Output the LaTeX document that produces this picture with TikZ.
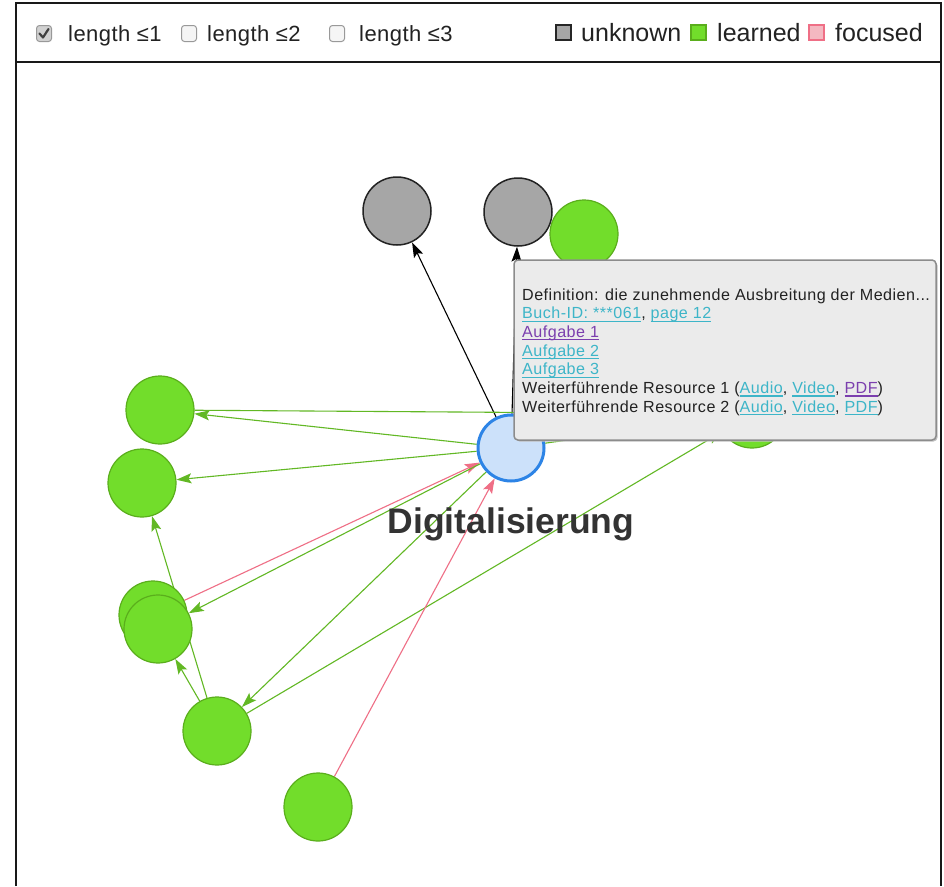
\documentclass[tikz,border=0pt]{standalone}
\usepackage{fontspec}
\setmainfont{Liberation Sans}
\newfontfamily\tipfont[LetterSpace=3]{Liberation Sans}
\newfontfamily\hdrfont[LetterSpace=2]{Liberation Sans}
\usetikzlibrary{arrows.meta}
\definecolor{gfill}{HTML}{72DD2B}
\definecolor{gstroke}{HTML}{5AAE1C}
\definecolor{gedge}{HTML}{62B824}
\definecolor{ufill}{HTML}{A6A6A6}
\definecolor{ustroke}{HTML}{222222}
\definecolor{pedge}{HTML}{EF6F86}
\definecolor{pfill}{HTML}{F4B8C1}
\definecolor{cfill}{HTML}{CCE1FA}
\definecolor{cstroke}{HTML}{2D84E6}
\definecolor{tipbg}{HTML}{EBEBEB}
\definecolor{tipborder}{HTML}{8C8C8C}
\definecolor{linkc}{HTML}{3DB5C8}
\definecolor{vlinkc}{HTML}{7B3FAE}
\definecolor{txt}{HTML}{222222}
\newcommand\myul[1]{\setbox0\hbox{#1}\leavevmode\rlap{\raisebox{-3pt}{\rule{\wd0}{1.1pt}}}\box0}
\newcommand\lnk[1]{\textcolor{linkc}{\myul{#1}}}
\newcommand\vlnk[1]{\textcolor{vlinkc}{\myul{#1}}}
\pgfdeclarelayer{bg}
\pgfdeclarelayer{edges}
\pgfsetlayers{bg,edges,main}
\tikzset{
  learned/.style={circle, minimum size=68pt, inner sep=0pt, fill=gfill, draw=gstroke, line width=1.2pt},
  unknown/.style={circle, minimum size=68pt, inner sep=0pt, fill=ufill, draw=ustroke, line width=1.5pt},
  center/.style={circle, minimum size=66pt, inner sep=0pt, fill=cfill, draw=cstroke, line width=3pt},
  gl/.style={draw=gedge, line width=1.1pt, -{Stealth[length=15pt,width=10pt,inset=3pt]}},
  pl/.style={draw=pedge, line width=1.1pt, -{Stealth[length=15pt,width=10pt,inset=3pt]}},
  bl/.style={draw=black, line width=1.1pt, -{Stealth[length=15pt,width=10pt,inset=3pt]}},
  frame/.style={draw=black!90, line width=1.4pt},
  hdr/.style={anchor=base west, inner sep=0pt, font=\hdrfont\fontsize{22}{24}\selectfont, text=txt},
  leg/.style={anchor=base west, inner sep=0pt, font=\fontsize{25}{28}\selectfont, text=txt},
  tipline/.style={anchor=base west, inner sep=0pt, font=\tipfont\fontsize{16.1}{18}\selectfont, text=txt},
  cbox/.style={draw=black!40, fill=black!4, rounded corners=3pt, line width=1pt},
}
\begin{document}
\begin{tikzpicture}[x=1pt,y=-1pt]
\begin{pgfonlayer}{bg}
\fill[white] (0,0) rectangle (944,886);
\end{pgfonlayer}
\useasboundingbox (0,0) rectangle (944,886);
% frame
\draw[frame] (16,886) -- (16,3) -- (941,3) -- (941,886);
\draw[frame] (16,62) -- (941,62);
% header checkboxes
\draw[cbox, fill=black!18] (36.5,25.5) rectangle (51.5,41.5);
\draw[line width=2.2pt, black!75, line cap=round, line join=round] (39.5,33.5) -- (43,37.5) -- (48.5,29);
\node[hdr] (t1) at (68,41) {length ≤1};
\draw[cbox] (181.5,25.5) rectangle (196.5,41.5);
\node[hdr] (t2) at (207,41) {length ≤2};
\draw[cbox] (329.5,25.5) rectangle (344.5,41.5);
\node[hdr] (t3) at (359,41) {length ≤3};
% legend
\draw[fill=ufill, draw=black!85, line width=1.4pt] (556,25) rectangle (571,40);
\node[leg] (l1) at (581,41) {unknown};
\draw[fill=gfill, draw=gstroke, line width=1.4pt] (691,25) rectangle (706,40);
\node[leg] (l2) at (717,41) {learned};
\draw[fill=pfill, draw=pedge, line width=1.4pt] (809,25) rectangle (824,40);
\node[leg] (l3) at (835,41) {focused};
% nodes
\node[unknown] (g1) at (397,211) {};
\node[unknown] (g2) at (518,212) {};
\node[learned] (tr) at (584,234) {};
\node[learned] (r) at (752,414) {};
\node[learned] (l1n) at (160,410) {};
\node[learned] (l2n) at (142,483) {};
\node[learned] (l3a) at (153,615) {};
\node[learned] (l3b) at (158,629) {};
\node[learned] (b1) at (217,731) {};
\node[learned] (b2) at (318,807) {};
\node[center] (c) at (511,448) {};
% edges
\begin{pgfonlayer}{edges}
\draw[bl] (c) -- (g1);
\draw[bl] (c) -- (g2);
\draw[gl] (l1n) -- (r);
\draw[gl] (c) -- (l1n);
\draw[gl] (c) -- (l2n);
\draw[pl] (l3a) -- (c);
\draw[gl] (c) -- (l3b);
\draw[gl] (b1) -- (l2n);
\draw[gl] (b1) -- (l3b);
\draw[gl] (c) -- (b1);
\draw[gl] (b1) -- (r);
\draw[pl] (b2) -- (c);
\draw[gl] (c) -- (r);
\end{pgfonlayer}
% label
\node[font=\bfseries\fontsize{35.5}{40}\selectfont, text=black!80, anchor=base] (lab) at (511,533) {Digitalisierung};
% tooltip
\fill[black!25, rounded corners=4pt] (515.5,261.5) rectangle (937.5,441.5);
\draw[fill=tipbg, draw=tipborder, line width=1.5pt, rounded corners=4pt] (514,260) rectangle (936,440);
\node[tipline] (d1) at (522,300) {Definition: die zunehmende Ausbreitung der Medien...};
\node[tipline] (d2) at (522,318.7) {\lnk{Buch-ID: ***061}, \lnk{page 12}};
\node[tipline] (d3) at (522,337.4) {\vlnk{Aufgabe 1}};
\node[tipline] (d4) at (522,356.1) {\lnk{Aufgabe 2}};
\node[tipline] (d5) at (522,374.8) {\lnk{Aufgabe 3}};
\node[tipline] (d6) at (522,393.5) {Weiterführende Resource 1 (\lnk{Audio}, \lnk{Video}, \vlnk{PDF})};
\node[tipline] (d7) at (522,412.2) {Weiterführende Resource 2 (\lnk{Audio}, \lnk{Video}, \lnk{PDF})};
\end{tikzpicture}
\end{document}
